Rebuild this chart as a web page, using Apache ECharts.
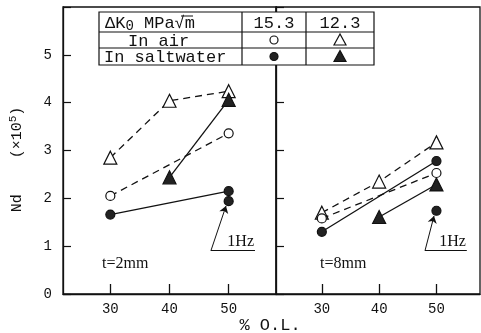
<!DOCTYPE html>
<html><head><meta charset="utf-8">
<script src="https://cdn.jsdelivr.net/npm/echarts@6/dist/echarts.min.js"></script>
<style>html,body{margin:0;padding:0;background:#fff}#c{width:481px;height:333px}</style>
</head><body><div id="c"></div>
<script>
// ---- data ----
const pctOL = [30, 40, 50];
const xTicks = [30, 40, 50];
const yTicks = [0, 1, 2, 3, 4, 5];
// t = 2 mm
const t2_air_K153 = [2.05, null, 3.36];
const t2_air_K123 = [2.85, 4.04, 4.24];
const t2_salt_K153 = [1.66, null, 2.15];
const t2_salt_K123 = [null, 2.44, 4.06];
const t2_salt_1Hz = [null, null, 1.94];
// t = 8 mm
const t8_air_K153 = [1.58, null, 2.53];
const t8_air_K123 = [1.70, 2.35, 3.17];
const t8_salt_K153 = [1.30, null, 2.78];
const t8_salt_K123 = [null, 1.61, 2.29];
const t8_salt_1Hz = [null, null, 1.74];
const tableHead = ['ΔK0 MPa√m', '15.3', '12.3'];
const rowLabels = ['In air', 'In saltwater'];

const pairs = a => pctOL.map((x, i) => [x, a[i]]).filter(p => p[1] != null);
const MONO = '"Liberation Mono", "DejaVu Sans Mono", monospace';
const SERIF = '"Liberation Serif", "DejaVu Serif", serif';
const INK = '#111';

function mk(arr, g, kind, dashed) {
  const filled = kind.startsWith('f');
  const tri = kind.endsWith('t');
  return {
    type: 'line', xAxisIndex: g, yAxisIndex: g, data: pairs(arr),
    symbol: tri ? 'triangle' : 'circle', symbolSize: tri ? 13 : 9,
    itemStyle: { color: filled ? '#222' : '#fff', borderColor: INK, borderWidth: 1.2, opacity: 1 },
    lineStyle: { color: INK, width: 1.3, type: dashed ? [7, 5] : 'solid' },
    z: tri ? 3 : 4, animation: false, silent: true
  };
}
function hz(arr, g, start, tip, endX) {
  return {
    type: 'scatter', xAxisIndex: g, yAxisIndex: g, data: pairs(arr),
    symbol: 'circle', symbolSize: 9,
    itemStyle: { color: '#222', borderColor: INK, borderWidth: 1.2, opacity: 1 },
    animation: false, silent: true,
    markLine: {
      silent: true, animation: false,
      lineStyle: { color: INK, width: 1, type: 'solid' },
      label: { show: false },
      data: [
        [{ coord: start, symbol: 'none' }, { coord: tip, symbol: 'arrow', symbolSize: 7 }],
        [{ coord: start, symbol: 'none' }, { coord: [endX, start[1]], symbol: 'none',
          label: { show: true, position: 'insideEndTop', formatter: '1Hz', distance: 1,
            fontFamily: SERIF, fontSize: 16, color: INK } }]
      ]
    }
  };
}

const xAxisBase = g => ({
  type: 'value', gridIndex: g, min: 22, max: g === 0 ? 58 : 57.6,
  axisLine: { show: true, lineStyle: { color: INK, width: 1.3 } },
  axisTick: { show: true, inside: true, length: 10, customValues: xTicks, lineStyle: { color: INK, width: 1.3 } },
  axisLabel: { show: true, customValues: xTicks, fontFamily: MONO, fontSize: 14, color: INK, margin: 8 },
  splitLine: { show: false }
});
const yAxisBase = g => ({
  type: 'value', gridIndex: g, min: 0, max: 6, interval: 1,
  axisLine: { show: true, lineStyle: { color: INK, width: 1.3 } },
  axisTick: { show: true, inside: true, length: 8, lineStyle: { color: INK, width: 1.2 } },
  axisLabel: { show: g === 0, fontFamily: MONO, fontSize: 14, color: INK, margin: 11,
    formatter: v => (yTicks.includes(v) ? String(v) : '') },
  splitLine: { show: false }
});

const chart = echarts.init(document.getElementById('c'), null, { renderer: 'canvas' });
const yA0 = yAxisBase(0);
yA0.name = '{n|Nd    (×10}{sup|5}{n|)  }';
yA0.nameLocation = 'middle';
yA0.nameRotate = 90;
yA0.nameGap = 36;
yA0.nameTextStyle = { fontFamily: MONO, fontSize: 15, color: INK,
  rich: {
    n: { fontFamily: MONO, fontSize: 15, color: INK },
    sup: { fontFamily: MONO, fontSize: 11, color: INK, verticalAlign: 'top', padding: [0, 0, 8, 0] } } };

const cw = [143, 64, 68];
const cx0 = 99, ry = [12, 32, 48, 65];
const graphics = [];
// table borders
graphics.push({ type: 'rect', shape: { x: cx0, y: ry[0], width: cw[0] + cw[1] + cw[2], height: ry[3] - ry[0] },
  style: { fill: '#fff', stroke: INK, lineWidth: 1.2 }, z: 10 });
[ry[1], ry[2]].forEach(y => graphics.push({ type: 'line', shape: { x1: cx0, y1: y, x2: cx0 + cw[0] + cw[1] + cw[2], y2: y },
  style: { stroke: INK, lineWidth: 1.2 }, z: 11 }));
[cx0 + cw[0], cx0 + cw[0] + cw[1]].forEach(x => graphics.push({ type: 'line', shape: { x1: x, y1: ry[0], x2: x, y2: ry[3] },
  style: { stroke: INK, lineWidth: 1.2 }, z: 11 }));
const rc = [(ry[0] + ry[1]) / 2 + 1, (ry[1] + ry[2]) / 2 + 1, (ry[2] + ry[3]) / 2 + 1];
const c2 = cx0 + cw[0] + cw[1] / 2, c3 = cx0 + cw[0] + cw[1] + cw[2] / 2;
graphics.push({ type: 'text', x: 105, y: rc[0], z: 12, style: {
  text: 'ΔK{sub|0} MPa√m', fontFamily: MONO, fontSize: 17, fill: INK, verticalAlign: 'middle',
  rich: { sub: { fontFamily: MONO, fontSize: 14, fill: INK, padding: [7, 0, 0, 0] } } } });
graphics.push({ type: 'line', shape: { x1: 181, y1: 16, x2: 193, y2: 16 }, style: { stroke: INK, lineWidth: 1 }, z: 12 });
graphics.push({ type: 'text', x: c2, y: rc[0], z: 12, style: { text: tableHead[1], fontFamily: MONO, fontSize: 17, fill: INK, align: 'center', verticalAlign: 'middle' } });
graphics.push({ type: 'text', x: c3, y: rc[0], z: 12, style: { text: tableHead[2], fontFamily: MONO, fontSize: 17, fill: INK, align: 'center', verticalAlign: 'middle' } });
graphics.push({ type: 'text', x: 128, y: rc[1], z: 12, style: { text: rowLabels[0], fontFamily: MONO, fontSize: 17, fill: INK, verticalAlign: 'middle' } });
graphics.push({ type: 'text', x: 104, y: rc[2], z: 12, style: { text: rowLabels[1], fontFamily: MONO, fontSize: 17, fill: INK, verticalAlign: 'middle' } });
graphics.push({ type: 'circle', shape: { cx: c2, cy: rc[1] - 1, r: 4 }, style: { fill: '#fff', stroke: INK, lineWidth: 1.2 }, z: 12 });
graphics.push({ type: 'circle', shape: { cx: c2, cy: rc[2] - 1, r: 4 }, style: { fill: '#222', stroke: INK, lineWidth: 1.2 }, z: 12 });
graphics.push({ type: 'polygon', shape: { points: [[c3, rc[1] - 7], [c3 - 6, rc[1] + 4], [c3 + 6, rc[1] + 4]] }, style: { fill: '#fff', stroke: INK, lineWidth: 1.2 }, z: 12 });
graphics.push({ type: 'polygon', shape: { points: [[c3, rc[2] - 7], [c3 - 6, rc[2] + 4], [c3 + 6, rc[2] + 4]] }, style: { fill: '#222', stroke: INK, lineWidth: 1.2 }, z: 12 });
graphics.push({ type: 'text', x: 102, y: 264, style: { text: 't=2mm', fontFamily: SERIF, fontSize: 16, fill: INK, verticalAlign: 'middle' } });
graphics.push({ type: 'text', x: 320, y: 264, style: { text: 't=8mm', fontFamily: SERIF, fontSize: 16, fill: INK, verticalAlign: 'middle' } });
graphics.push({ type: 'text', x: 270, y: 325, style: { text: '% O.L.', fontFamily: MONO, fontSize: 17, fill: INK, align: 'center', verticalAlign: 'middle' } });

chart.setOption({
  animation: false,
  backgroundColor: '#fff',
  grid: [
    { left: 63, top: 7, width: 213, height: 287, show: true, borderColor: INK, borderWidth: 1.3 },
    { left: 276, top: 7, width: 204, height: 287, show: true, borderColor: INK, borderWidth: 1.3 }
  ],
  xAxis: [xAxisBase(0), xAxisBase(1)],
  yAxis: [yA0, yAxisBase(1)],
  series: [
    mk(t2_air_K123, 0, 'ot', true),
    mk(t2_air_K153, 0, 'oc', true),
    mk(t2_salt_K153, 0, 'fc', false),
    mk(t2_salt_K123, 0, 'ft', false),
    hz(t2_salt_1Hz, 0, [47.0, 0.905], [49.55, 1.84], 54.45),
    mk(t8_air_K123, 1, 'ot', true),
    mk(t8_air_K153, 1, 'oc', true),
    mk(t8_salt_K153, 1, 'fc', false),
    mk(t8_salt_K123, 1, 'ft', false),
    hz(t8_salt_1Hz, 1, [48.0, 0.905], [49.57, 1.63], 55.3)
  ],
  graphic: graphics
});
</script></body></html>
